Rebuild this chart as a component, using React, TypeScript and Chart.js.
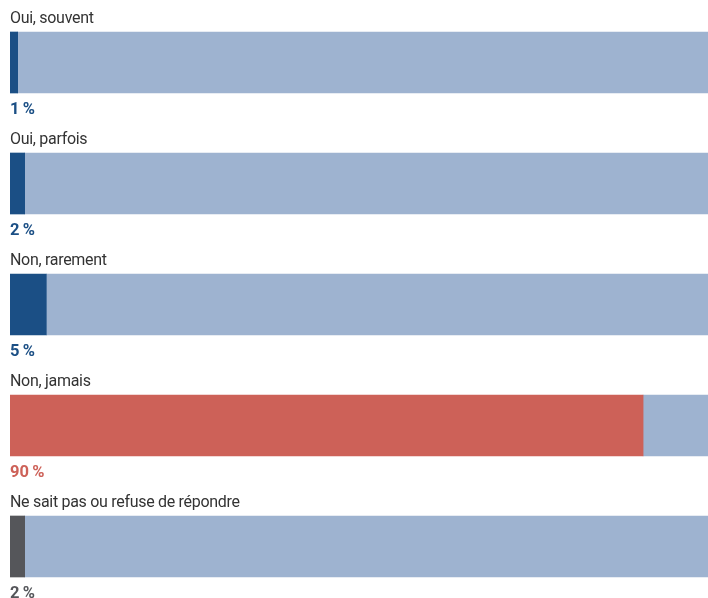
import React, { useEffect, useRef } from "react";
import { Chart, registerables } from "chart.js";

Chart.register(...registerables);

const categories = [
  "Oui, souvent",
  "Oui, parfois",
  "Non, rarement",
  "Non, jamais",
  "Ne sait pas ou refuse de répondre",
];
const values = [1.1, 2.1, 5.2, 90.7, 2.1];
const percentLabels = ["1\u2009%", "2\u2009%", "5\u2009%", "90\u2009%", "2\u2009%"];
const barColors = ["#1b4f85", "#1b4f85", "#1b4f85", "#cd6158", "#55565a"];
const restColor = "#9eb3d0";

const FONT = "Roboto, 'Liberation Sans', Arial, sans-serif";

const labelPlugin = {
  id: "labelPlugin",
  afterDatasetsDraw(chart: any) {
    const ctx = chart.ctx;
    const meta = chart.getDatasetMeta(0);
    const left = chart.chartArea.left;
    ctx.save();
    ctx.textAlign = "left";
    ctx.textBaseline = "alphabetic";
    meta.data.forEach((bar: any, i: number) => {
      const top = bar.y - bar.height / 2;
      const bottom = bar.y + bar.height / 2;
      ctx.font = `400 16px ${FONT}`;
      (ctx as any).letterSpacing = "-0.3px";
      ctx.fillStyle = "#333333";
      ctx.fillText(categories[i], left, top - 9);
      ctx.font = `700 16.5px ${FONT}`;
      (ctx as any).letterSpacing = "0px";
      ctx.fillStyle = barColors[i];
      ctx.fillText(percentLabels[i], left, bottom + 21);
    });
    ctx.restore();
  },
};

export default function App() {
  const ref = useRef<HTMLCanvasElement | null>(null);
  useEffect(() => {
    if (!ref.current) return;
    const chart = new Chart(ref.current, {
      type: "bar",
      data: {
        labels: categories,
        datasets: [
          {
            data: values,
            backgroundColor: barColors,
            borderWidth: 0,
            barThickness: 61,
          },
          {
            data: values.map((v) => 100 - v),
            backgroundColor: restColor,
            borderWidth: 0,
            barThickness: 61,
          },
        ],
      },
      options: {
        indexAxis: "y",
        animation: false,
        responsive: false,
        maintainAspectRatio: false,
        layout: { padding: { left: 10, right: 0, top: 2, bottom: 3 } },
        plugins: {
          legend: { display: false },
          tooltip: { enabled: false },
        },
        scales: {
          x: {
            stacked: true,
            min: 0,
            max: 100,
            display: false,
          },
          y: {
            stacked: true,
            display: false,
          },
        },
      },
      plugins: [labelPlugin],
    });
    return () => chart.destroy();
  }, []);
  return (
    <div style={{ position: "fixed", left: 0, top: 0, width: 708, height: 610 }}>
      <canvas ref={ref} width={708} height={610} style={{ display: "block" }} />
    </div>
  );
}
